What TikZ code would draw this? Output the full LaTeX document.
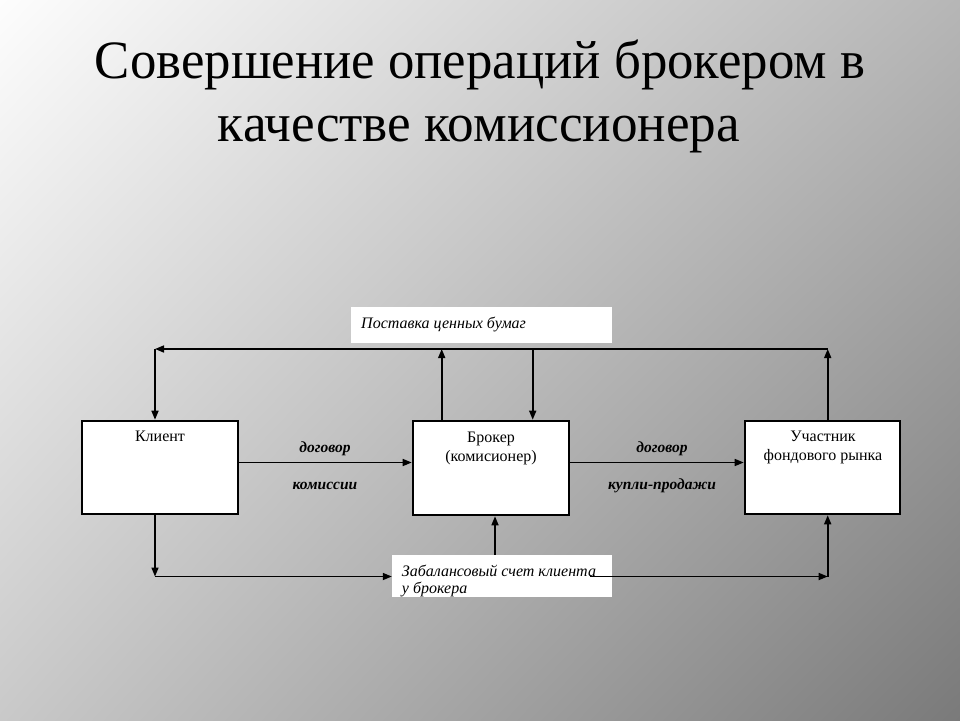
\documentclass[tikz,border=0pt]{standalone}
\usepackage{fontspec}
\setmainfont{Liberation Serif}
\usetikzlibrary{arrows.meta,shadings}
\definecolor{bgTL}{HTML}{FDFDFD}
\definecolor{bgTR}{HTML}{B6B6B6}
\definecolor{bgBL}{HTML}{C9C9C9}
\definecolor{bgBR}{HTML}{7A7A7A}
\begin{document}
\begin{tikzpicture}[x=1pt,y=-1pt,
  mainbox/.style={draw=black, line width=2.6pt, fill=white, inner sep=0pt},
  notebox/.style={fill=white, draw=none, inner sep=0pt},
  boxtext/.style={inner sep=0pt, align=center, font=\fontsize{16}{19}\selectfont},
  notetext/.style={inner sep=0pt, align=left, font=\fontsize{16}{17.5}\selectfont\itshape},
  lbl/.style={inner sep=0pt, font=\fontsize{15.5}{17}\selectfont\bfseries\itshape},
  titletext/.style={inner sep=0pt, anchor=base},
  conn/.style={line width=1.6pt, -{Triangle[length=9pt,width=7pt]}}
]
\useasboundingbox (0,0) rectangle (960,720);
\shade[upper left=bgTL, upper right=bgTR, lower left=bgBL, lower right=bgBR] (0,0) rectangle (960,720);

% title
\node[titletext] (t1) at (480,78.3) {\resizebox{770pt}{\height}{\fontsize{54}{60}\selectfont Совершение операций брокером в}};
\node[titletext] (t2) at (479,141.7) {\resizebox{522pt}{\height}{\fontsize{54}{60}\selectfont качестве комиссионера}};

% boxes
\node[mainbox, minimum width=156pt, minimum height=93pt] (client) at (160,467.5) {};
\node[mainbox, minimum width=156pt, minimum height=94pt] (broker) at (491,468) {};
\node[mainbox, minimum width=155pt, minimum height=93pt] (uch) at (822.5,467.5) {};
\node[notebox, minimum width=261pt, minimum height=36pt] (post) at (481.5,325) {};
\node[notebox, minimum width=220pt, minimum height=42pt] (zab) at (502,576) {};

% box texts (base anchor = baseline of the last line)
\node[boxtext, anchor=base] (clientT) at (160,441.7) {Клиент};
\node[boxtext, anchor=base] (brokerT) at (491,461.3) {Брокер\\(комисионер)};
\node[boxtext, anchor=base] (uchT) at (823,460.7) {Участник\\фондового рынка};
\node[notetext, anchor=base west] (postT) at (361,328.5) {Поставка ценных бумаг};
\node[notetext, anchor=base west] (zabT) at (401.7,593.5) {Забалансовый счет клиента\\у брокера};

% arrow labels
\node[lbl, anchor=base] (l1) at (325,452.7) {договор};
\node[lbl, anchor=base] (l2) at (325,489.3) {комиссии};
\node[lbl, anchor=base] (l3) at (662,452.7) {договор};
\node[lbl, anchor=base] (l4) at (662,489.3) {купли-продажи};

% helper coordinates
\coordinate (topL) at (155,349);
\coordinate (topR) at (827.7,349);
\coordinate (botL) at (155,576.5);
\coordinate (botR) at (827.7,576.5);
\coordinate (zabOut) at (590,576.5);
\coordinate (bUp) at (441.7,349);
\coordinate (bDn) at (532.7,349);
\coordinate (zabUp) at (495,555);
\coordinate (midY) at (0,462.5);

% connectors
\draw[conn] (uch.north -| topR) -- (topR);
\draw[conn] (topR) -- (topL);
\draw[conn] (topL) -- (client.north -| topL);
\draw[conn] (broker.north -| bUp) -- (bUp);
\draw[conn] (bDn) -- (broker.north -| bDn);
\draw[conn] (client.east |- midY) -- (broker.west |- midY);
\draw[conn] (broker.east |- midY) -- (uch.west |- midY);
\draw[conn] (client.south -| botL) -- (botL);
\draw[conn] (botL) -- (zab.west |- botL);
\draw[conn] (zab.north -| zabUp) -- (broker.south -| zabUp);
\draw[conn] (zabOut) -- (botR);
\draw[conn] (botR) -- (uch.south -| botR);
\end{tikzpicture}
\end{document}
